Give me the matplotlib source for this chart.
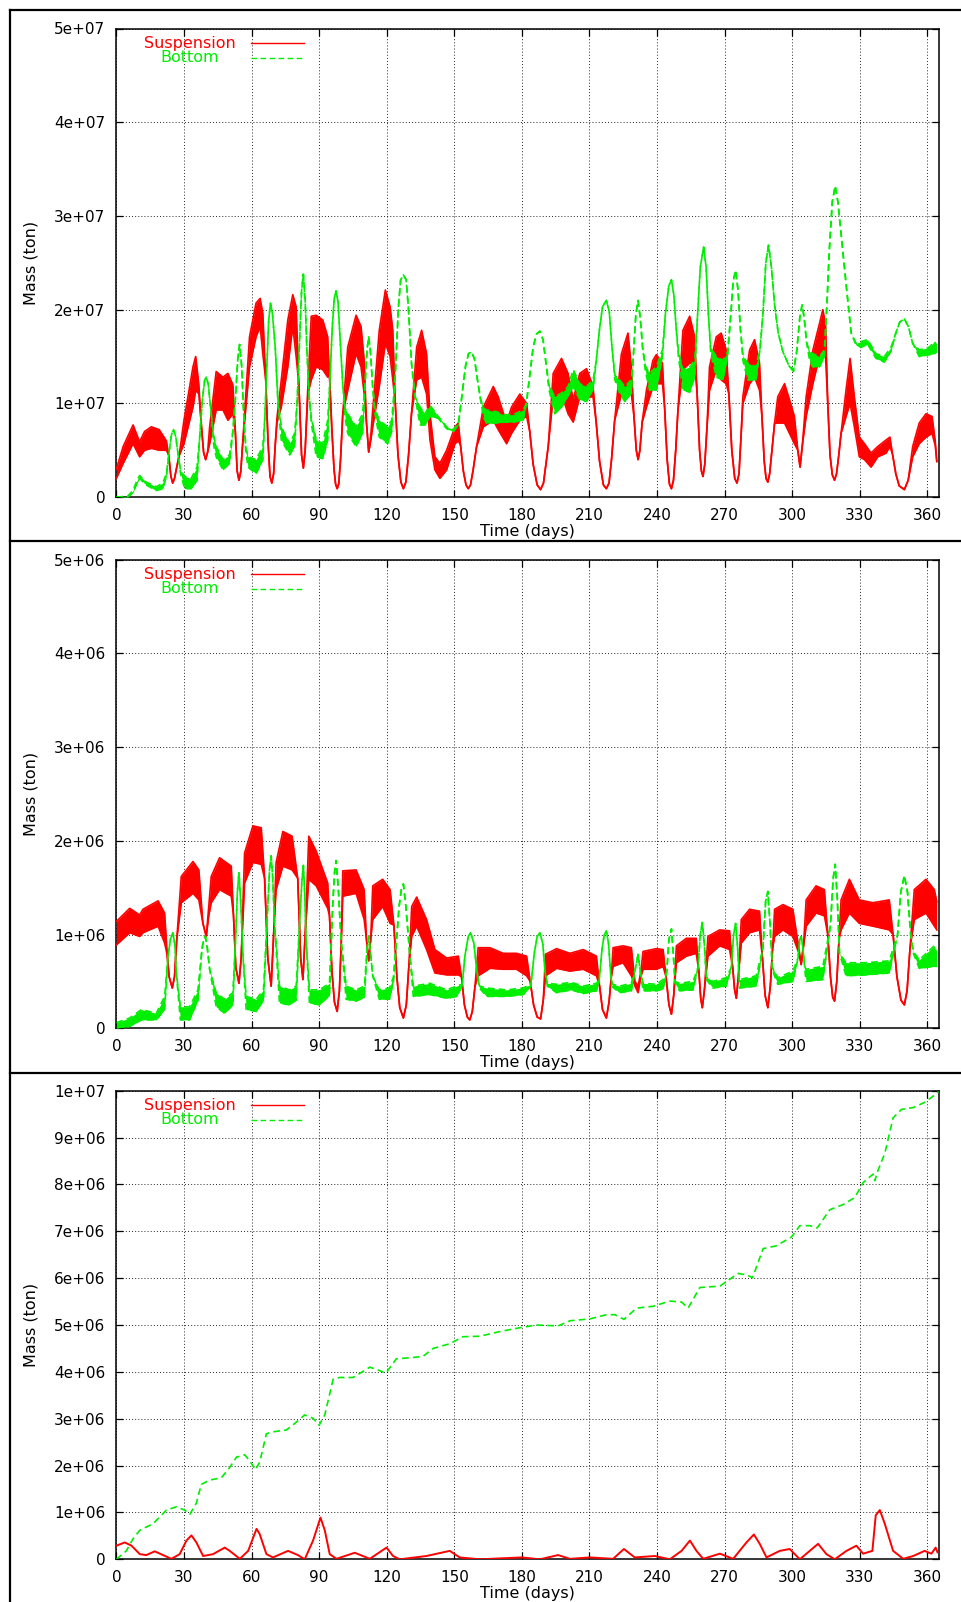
import matplotlib
matplotlib.use("Agg")
import matplotlib.pyplot as plt
from matplotlib.lines import Line2D
import numpy as np

plt.rcParams['font.family'] = ['DejaVu Sans']

RED = '#ff0000'
GREEN = '#00ee00'

# Each row: (day, upper envelope, lower envelope) of the tidally oscillating mass.
# ---------------------------------------------------------------- panel 1 (units of 1e7 t)
p1_suspension = [
    (0, .30, .20), (3, .54, .36), (7.4, .77, .57), (10.3, .59, .43), (12.5, .70, .50), (15.5, .75, .52),
    (19, .72, .50), (22.2, .60, .50), (23.2, .45, .45), (24.2, .22, .22), (25.0, .15, .15), (25.8, .20, .20),
    (26.8, .32, .32), (28, .47, .45), (30, .82, .57), (34, 1.39, .96), (35.2, 1.50, 1.14), (36.6, 1.20, 1.10),
    (37.6, .80, .80), (38.7, .48, .48), (39.6, .40, .40), (40.5, .48, .48), (41.4, .75, .57), (44.3, 1.34, .93),
    (47.3, 1.28, .93), (49.5, 1.32, .82), (51.7, 1.20, .89), (52.8, .70, .70), (53.6, .28, .28), (54.4, .18, .18),
    (55.2, .27, .27), (56, .55, .55), (56.9, .89, .80), (59.1, 1.71, 1.39), (62, 2.07, 1.71), (63.8, 2.12, 1.82),
    (65, 1.96, 1.53), (66.3, 1.25, 1.25), (67.3, .60, .60), (68.2, .22, .22), (69, .15, .15), (69.8, .25, .25),
    (70.5, .55, .55), (71.3, .85, .80), (73.2, 1.25, .96), (76.1, 1.89, 1.39), (78.3, 2.16, 1.82),
    (79.8, 2.03, 1.50), (81, 1.20, 1.20), (82.2, .45, .45), (83, .31, .31), (83.8, .50, .50), (85, 1.18, 1.10),
    (86.5, 1.93, 1.25), (88.7, 1.94, 1.39), (91.6, 1.89, 1.36), (93.8, 1.71, 1.28), (94.6, 1.30, 1.30),
    (95.6, .75, .75), (96.6, .30, .30), (97.3, .14, .14), (98, .09, .09), (98.7, .14, .14), (99.5, .40, .40),
    (100.5, .89, .89), (102.7, 1.60, 1.14), (106.4, 1.94, 1.53), (108.6, 1.82, 1.39), (110, 1.46, 1.10),
    (111, .80, .80), (112, .48, .48), (112.9, .65, .60), (113.8, .93, .75), (116.7, 1.78, 1.18),
    (119.4, 2.21, 1.64), (121.5, 2.03, 1.50), (122.7, 1.78, 1.25), (123.8, 1.00, 1.00), (125, .45, .45),
    (126.3, .16, .16), (127.4, .09, .09), (128.5, .16, .16), (129.7, .45, .45), (131, .89, .89),
    (133.3, 1.60, 1.25), (135.5, 1.78, 1.28), (137.7, 1.53, 1.10), (139.2, .89, .61), (141.4, .43, .29),
    (143.6, .36, .20), (146.6, .50, .29), (150.3, .75, .57), (151.8, .79, .60), (152.8, .55, .55),
    (154, .28, .28), (155.2, .13, .13), (156.2, .09, .09), (157.2, .13, .13), (158.3, .28, .28),
    (159.9, .54, .54), (162.9, .96, .75), (167.3, 1.18, .82), (169.5, 1.07, .72), (173.2, .79, .57),
    (175.4, .96, .68), (179.1, 1.10, .82), (182.1, 1.00, .86), (183.5, .70, .70), (185, .35, .35),
    (186.8, .13, .13), (188.3, .08, .08), (189.6, .15, .15), (190.7, .35, .35), (191.7, .54, .54),
    (193.9, 1.32, 1.07), (197.6, 1.48, 1.10), (200.5, 1.32, .89), (202.8, 1.04, .80), (205.7, 1.32, 1.07),
    (208.7, 1.37, 1.07), (211.6, 1.18, 1.07), (213, .80, .80), (214.5, .38, .38), (216.2, .13, .13),
    (217.5, .09, .09), (218.7, .15, .15), (219.8, .40, .40), (221.2, .82, .82), (224.2, 1.53, 1.10),
    (227.1, 1.75, 1.21), (228.6, 1.39, 1.10), (229.8, .85, .85), (230.8, .50, .50), (231.6, .40, .40),
    (232.4, .50, .50), (233.4, .80, .80), (235.3, 1.14, .96), (238.2, 1.46, 1.18), (239.7, 1.52, 1.21),
    (242.4, 1.43, 1.21), (243.4, .95, .95), (244.5, .40, .40), (245.5, .14, .14), (246.4, .09, .09),
    (247.3, .18, .18), (248.3, .50, .50), (249.3, .93, .93), (251.5, 1.78, 1.36), (254.5, 1.93, 1.43),
    (256.7, 1.71, 1.43), (257.8, 1.10, 1.10), (258.9, .50, .50), (259.7, .28, .28), (260.4, .22, .22),
    (261.2, .35, .35), (262.2, .75, .75), (263.3, 1.39, 1.14), (266.3, 1.71, 1.36), (268.5, 1.75, 1.25),
    (270.7, 1.57, 1.21), (271.9, 1.10, 1.10), (273.2, .50, .50), (274.5, .20, .20), (275.5, .15, .15),
    (276.4, .25, .25), (277.3, .65, .65), (278.1, 1.07, 1.00), (281.1, 1.57, 1.21), (283.3, 1.68, 1.28),
    (285.5, 1.43, 1.14), (286.6, .85, .85), (287.6, .38, .38), (288.4, .20, .20), (289.2, .16, .16),
    (290, .25, .25), (291, .50, .50), (292.2, .79, .79), (293.6, 1.07, .79), (296.6, 1.21, .79),
    (298.8, 1.04, .68), (301, .86, .57), (302.5, .50, .50), (303.5, .32, .32), (304.5, .55, .55),
    (306.2, 1.07, .86), (309.2, 1.57, 1.21), (312.1, 1.85, 1.50), (313.6, 2.00, 1.57), (314.8, 1.85, 1.50),
    (315.8, 1.00, 1.00), (316.8, .45, .45), (317.8, .24, .24), (318.8, .18, .18), (319.7, .25, .25),
    (320.7, .45, .45), (321.7, .68, .68), (323.9, 1.14, .86), (325.7, 1.48, 1.00), (327.6, 1.07, .75),
    (329.8, .64, .43), (332.1, .57, .40), (335, .47, .32), (338, .54, .43), (341.7, .61, .47),
    (343.4, .64, .54), (344.6, .45, .45), (346, .25, .25), (347.5, .12, .12), (349.8, .08, .08),
    (351.5, .18, .18), (353.5, .54, .43), (356.4, .79, .57), (359.4, .89, .64), (362.1, .86, .68),
    (363.5, .60, .55), (364.2, .38, .38),
]

p1_bottom = [
    (0, 0, 0), (5, .01, 0), (7.4, .07, .05), (9, .17, .14), (10.3, .23, .20), (13.2, .16, .13),
    (17.7, .11, .07), (20.6, .15, .09), (22.2, .25, .22), (23.5, .50, .50), (24.5, .67, .67), (25.4, .72, .72),
    (26.4, .64, .64), (27.4, .45, .45), (28.5, .28, .25), (30.3, .22, .09), (33.2, .20, .09), (35.8, .32, .18),
    (37, .65, .65), (38.2, 1.05, 1.05), (39.2, 1.25, 1.25), (39.9, 1.28, 1.28), (40.8, 1.20, 1.20),
    (42.1, .89, .89), (43.2, .65, .55), (44.3, .54, .43), (47.3, .40, .29), (50.2, .45, .36), (51.7, .70, .70),
    (52.9, 1.07, 1.07), (53.9, 1.48, 1.48), (54.7, 1.63, 1.63), (55.6, 1.40, 1.40), (56.5, .89, .89),
    (57.4, .55, .50), (58.4, .43, .32), (62, .40, .25), (65, .54, .40), (65.9, .85, .85), (66.7, 1.35, 1.35),
    (67.6, 1.88, 1.88), (68.4, 2.07, 2.07), (69.3, 1.95, 1.95), (70.5, 1.60, 1.60), (71.7, 1.05, 1.00),
    (73.2, .75, .61), (76.9, .57, .45), (79.1, .68, .54), (80.2, 1.00, 1.00), (81.2, 1.60, 1.60),
    (82.2, 2.20, 2.20), (83, 2.38, 2.38), (83.8, 2.10, 2.10), (84.6, 1.55, 1.55), (85.5, 1.10, 1.10),
    (86.5, .85, .80), (88.7, .61, .43), (91.6, .57, .41), (93.8, .82, .61), (94.8, 1.25, 1.25),
    (95.8, 1.80, 1.80), (96.7, 2.12, 2.12), (97.5, 2.20, 2.20), (98.4, 2.08, 2.08), (99.4, 1.65, 1.65),
    (100.5, 1.20, 1.20), (101.5, .95, .85), (102.7, .89, .68), (106.4, .75, .54), (109.3, .89, .68),
    (110.5, 1.25, 1.25), (111.3, 1.58, 1.58), (112, 1.71, 1.71), (112.8, 1.55, 1.55), (113.7, 1.20, 1.20),
    (114.7, .95, .90), (116.7, .82, .64), (120.4, .75, .57), (122.2, .82, .70), (123.7, 1.25, 1.25),
    (125.2, 2.03, 2.03), (126.2, 2.32, 2.32), (127.4, 2.37, 2.37), (128.6, 2.32, 2.32), (129.6, 2.03, 2.03),
    (131, 1.43, 1.43), (132.6, 1.07, 1.07), (134.8, .96, .77), (137, .89, .77), (139.2, .98, .86),
    (142.9, .86, .84), (146.6, .75, .73), (149.6, .72, .70), (151.8, .79, .77), (153.5, 1.10, 1.10),
    (155, 1.40, 1.40), (156.3, 1.53, 1.53), (157.7, 1.55, 1.55), (159, 1.47, 1.47), (160.3, 1.25, 1.25),
    (161.6, 1.05, 1.05), (163, .95, .85), (164.3, .93, .79), (168.8, .91, .79), (171.7, .88, .80),
    (176.2, .88, .80), (180.6, .93, .82), (182, 1.00, 1.00), (183.5, 1.30, 1.30), (185, 1.60, 1.60),
    (186.5, 1.74, 1.74), (188, 1.77, 1.77), (189.4, 1.68, 1.68), (190.6, 1.45, 1.45), (192, 1.20, 1.15),
    (194.6, 1.07, .89), (197.6, 1.11, .96), (200.5, 1.18, 1.08), (202.8, 1.36, 1.18), (205.7, 1.21, 1.04),
    (208.7, 1.18, 1.02), (211.6, 1.25, 1.15), (213, 1.45, 1.45), (214.5, 1.80, 1.80), (215.8, 2.03, 2.03),
    (217.5, 2.10, 2.10), (218.8, 1.98, 1.98), (220, 1.60, 1.60), (221.3, 1.30, 1.25), (223.4, 1.25, 1.11),
    (225.7, 1.18, 1.02), (228.6, 1.25, 1.11), (229.6, 1.55, 1.55), (230.6, 1.95, 1.95), (231.6, 2.10, 2.10),
    (232.6, 1.90, 1.90), (233.6, 1.60, 1.60), (234.8, 1.40, 1.35), (236.7, 1.32, 1.14), (239.7, 1.39, 1.14),
    (242.4, 1.57, 1.50), (243.7, 1.95, 1.95), (245.2, 2.25, 2.25), (246.4, 2.32, 2.32), (247.5, 2.15, 2.15),
    (248.5, 1.80, 1.80), (249.5, 1.55, 1.50), (251.5, 1.36, 1.14), (254.5, 1.39, 1.12), (256.7, 1.46, 1.28),
    (257.9, 1.90, 1.90), (259.2, 2.45, 2.45), (260.7, 2.67, 2.67), (261.8, 2.45, 2.45), (262.8, 1.95, 1.95),
    (263.8, 1.60, 1.55), (266.3, 1.50, 1.28), (269.3, 1.46, 1.25), (271.3, 1.55, 1.50), (272.6, 1.90, 1.90),
    (273.8, 2.30, 2.30), (274.9, 2.42, 2.42), (276, 2.20, 2.20), (277, 1.80, 1.80), (278.2, 1.50, 1.45),
    (280.3, 1.43, 1.25), (284, 1.39, 1.25), (285.8, 1.60, 1.60), (287, 1.95, 1.95), (288.3, 2.50, 2.50),
    (289.5, 2.69, 2.69), (290.8, 2.45, 2.45), (292.2, 2.05, 2.05), (293.8, 1.75, 1.75), (295.9, 1.55, 1.55),
    (298.8, 1.39, 1.39), (300.6, 1.37, 1.34), (302, 1.55, 1.55), (303.4, 1.92, 1.92), (304.4, 2.05, 2.05),
    (305.3, 1.92, 1.92), (306.4, 1.65, 1.65), (307.8, 1.55, 1.45), (309.2, 1.53, 1.39), (312.1, 1.50, 1.39),
    (314.3, 1.57, 1.50), (315.5, 2.10, 2.10), (316.5, 2.64, 2.64), (317.8, 3.15, 3.15), (319.1, 3.32, 3.32),
    (320.3, 3.15, 3.15), (321.7, 2.81, 2.81), (323.9, 2.28, 2.28), (326.2, 1.75, 1.75), (328.4, 1.64, 1.62),
    (330.6, 1.66, 1.60), (333.5, 1.68, 1.63), (337.2, 1.53, 1.48), (340.9, 1.50, 1.44), (343.9, 1.60, 1.56),
    (346, 1.75, 1.75), (347.8, 1.87, 1.87), (349.8, 1.90, 1.90), (351.6, 1.82, 1.82), (353.5, 1.64, 1.64),
    (356.4, 1.57, 1.50), (360.9, 1.60, 1.52), (363.1, 1.66, 1.53), (364.2, 1.62, 1.55),
]

# ---------------------------------------------------------------- panel 2 (units of 1e6 t)
p2_suspension = [
    (0, 1.14, .89), (5.9, 1.28, 1.02), (10.3, 1.21, .98), (11.8, 1.27, 1.02), (18.5, 1.36, 1.09),
    (21.4, 1.23, .91), (22.4, .85, .80), (23.4, .55, .55), (24.8, .43, .43), (25.8, .55, .55), (26.8, .95, .95),
    (28.8, 1.62, 1.34), (34, 1.78, 1.44), (36.6, 1.69, 1.37), (38.4, 1.12, 1.12), (39.9, .98, .98),
    (41, 1.30, 1.20), (42.1, 1.62, 1.34), (45.8, 1.82, 1.48), (51, 1.73, 1.41), (52, 1.20, 1.20),
    (53, .65, .65), (54.4, .48, .48), (55.4, .75, .75), (56.9, 1.87, 1.55), (60.6, 2.16, 1.77),
    (64.3, 2.14, 1.75), (65.8, 1.60, 1.60), (67.2, .75, .75), (68.7, .45, .45), (69.8, 1.00, 1.00),
    (70.9, 1.77, 1.48), (73.9, 2.10, 1.73), (78, 2.05, 1.69), (80.5, 1.60, 1.60), (81.8, .75, .75),
    (82.8, .52, .52), (83.8, 1.00, 1.00), (85.4, 2.05, 1.59), (88.7, 1.89, 1.52), (93.8, 1.55, 1.28),
    (94.6, 1.20, 1.20), (95.7, .60, .60), (96.8, .28, .28), (98, .18, .18), (99, .40, .40), (99.8, .90, .90),
    (100.5, 1.68, 1.41), (106.4, 1.69, 1.44), (110, 1.48, 1.16), (111, .95, .95), (112, .72, .72),
    (112.9, .95, .95), (113.8, 1.52, 1.16), (118.2, 1.59, 1.30), (121.5, 1.48, 1.12), (123.2, 1.10, 1.10),
    (124.5, .55, .55), (125.8, .22, .22), (127.4, .11, .11), (128.7, .25, .25), (129.8, .65, .65),
    (131.1, 1.30, .98), (133.3, 1.40, 1.09), (137.7, 1.16, .84), (141.4, .84, .59), (146.6, .75, .57),
    (151.8, .77, .57), (153.2, .55, .55), (154.5, .25, .25), (155.8, .12, .12), (156.9, .09, .09),
    (158, .18, .18), (159.2, .45, .45), (160.6, .86, .56), (165.8, .86, .64), (171.7, .80, .63),
    (177.6, .80, .63), (182.1, .77, .56), (183.7, .50, .50), (185.2, .25, .25), (186.8, .12, .12),
    (188.3, .10, .10), (189.5, .30, .30), (190.5, .79, .56), (195.4, .85, .64), (201.3, .80, .61),
    (207.2, .84, .63), (213.1, .77, .56), (214.5, .45, .45), (215.8, .20, .20), (217.5, .11, .11),
    (218.7, .28, .28), (219.7, .55, .55), (220.5, .86, .66), (224.9, .88, .70), (228.6, .86, .56),
    (230.2, .50, .45), (231.6, .45, .38), (232.8, .60, .55), (233.8, .82, .63), (239.7, .85, .63),
    (242.7, .84, .66), (244, .55, .55), (245.3, .25, .25), (246.4, .15, .15), (247.4, .35, .35),
    (248.6, .88, .70), (253, .96, .77), (257.4, .96, .80), (258.6, .60, .60), (259.4, .32, .32),
    (260.1, .22, .22), (261, .40, .40), (262.6, .98, .77), (267.8, 1.05, .88), (272.2, 1.04, .84),
    (273.6, .65, .65), (274.4, .42, .42), (275.2, .32, .32), (276.1, .55, .55), (277.4, 1.16, .91),
    (281.1, 1.27, 1.02), (285.5, 1.25, 1.05), (286.8, .75, .75), (288, .35, .35), (289.2, .22, .22),
    (290.3, .45, .45), (291.3, .85, .85), (292.2, 1.27, .98), (295.9, 1.32, 1.05), (300.3, 1.27, .98),
    (303, .85, .80), (304, .68, .68), (305.2, .95, .90), (306.2, 1.37, 1.09), (310.6, 1.52, 1.23),
    (314.3, 1.48, 1.20), (315.8, 1.00, 1.00), (317, .55, .55), (318, .33, .33), (318.8, .29, .29),
    (319.8, .50, .50), (320.8, .95, .95), (321.7, 1.37, 1.05), (325.4, 1.59, 1.23), (329.8, 1.37, 1.12),
    (335.8, 1.34, 1.09), (343.1, 1.37, 1.05), (344.8, 1.00, 1.00), (346.5, .55, .55), (348.3, .30, .30),
    (349.8, .25, .25), (351, .40, .40), (352.3, .85, .85), (354.2, 1.48, 1.16), (359.4, 1.59, 1.23),
    (363.1, 1.48, 1.09), (364.2, 1.35, 1.05),
]

p2_bottom = [
    (0, .06, 0), (5.9, .11, .02), (11.1, .20, .09), (17.7, .16, .09), (21.4, .34, .20), (22.9, .77, .77),
    (24, .95, .95), (25.1, 1.02, 1.02), (26, .88, .88), (26.6, .59, .59), (28.4, .23, .09), (32.5, .23, .09),
    (36.2, .41, .30), (38, .85, .85), (38.8, .95, .95), (39.5, .98, .98), (40.4, .85, .85), (41.4, .63, .63),
    (44.3, .38, .23), (48, .31, .16), (51.7, .38, .25), (53, 1.00, 1.00), (53.7, 1.45, 1.45),
    (54.4, 1.66, 1.66), (55.2, 1.35, 1.35), (56.2, .77, .77), (57.6, .34, .20), (62.1, .31, .18),
    (65.3, .41, .30), (67, 1.20, 1.20), (68, 1.70, 1.70), (68.7, 1.84, 1.84), (69.4, 1.60, 1.60),
    (70.2, 1.12, 1.12), (72.4, .45, .27), (76.8, .41, .25), (79.8, .45, .30), (81.5, 1.20, 1.20),
    (82.3, 1.55, 1.55), (83, 1.74, 1.74), (83.6, 1.45, 1.45), (84.2, .95, .95), (85.7, .41, .27),
    (90.1, .41, .25), (94.6, .48, .35), (96, 1.30, 1.30), (96.8, 1.65, 1.65), (97.5, 1.79, 1.79),
    (98.5, 1.50, 1.50), (99.7, .95, .95), (102, .45, .31), (106.4, .41, .29), (110.1, .45, .33),
    (111.3, .85, .85), (112, .98, .98), (112.8, .80, .80), (113.8, .56, .56), (116.7, .41, .31),
    (121.2, .43, .31), (123, .55, .50), (125.5, 1.30, 1.30), (126.5, 1.48, 1.48), (127.4, 1.54, 1.54),
    (128.5, 1.30, 1.30), (130.3, .77, .77), (131.8, .45, .34), (139.2, .48, .36), (146.6, .41, .32),
    (151, .45, .34), (153.5, .47, .45), (154.7, .77, .77), (156.2, .98, .98), (157.2, 1.02, 1.02),
    (158.7, .91, .91), (159.9, .63, .63), (161.2, .45, .43), (164.3, .43, .34), (173.2, .41, .34),
    (180.6, .43, .36), (184, .47, .45), (185.5, .80, .80), (186.8, .98, .98), (188, 1.02, 1.02),
    (189.3, .90, .90), (190.3, .60, .60), (191.3, .48, .45), (195.4, .47, .38), (202, .49, .41),
    (207.2, .45, .37), (213.1, .48, .40), (214.3, .52, .50), (215.6, .85, .85), (216.6, 1.00, 1.00),
    (217.5, 1.04, 1.04), (218.5, .90, .90), (219.5, .55, .55), (220.3, .47, .44), (223.4, .45, .38),
    (228.6, .48, .40), (230.5, .65, .65), (231.6, .79, .79), (232.6, .60, .60), (233.8, .48, .40),
    (239.7, .47, .40), (242.7, .52, .42), (244.3, .60, .60), (245.3, .95, .95), (246.4, 1.06, 1.06),
    (247.2, .80, .80), (248, .50, .48), (250, .48, .40), (256, .50, .41), (258.2, .65, .65),
    (259.2, 1.00, 1.00), (260.1, 1.13, 1.13), (261, .90, .90), (261.9, .55, .52), (264.8, .50, .43),
    (270.7, .54, .45), (273, .65, .65), (274, 1.00, 1.00), (274.9, 1.12, 1.12), (275.8, .85, .85),
    (276.6, .52, .43), (284, .56, .45), (287, .85, .85), (288.2, 1.35, 1.35), (289.2, 1.46, 1.46),
    (290.2, 1.10, 1.10), (291.2, .65, .62), (293.6, .54, .47), (300.3, .61, .50), (302.6, .75, .75),
    (303.4, .95, .95), (304, .98, .98), (304.8, .85, .85), (305.7, .65, .60), (306.2, .63, .50),
    (313.6, .66, .52), (317, 1.10, 1.10), (318.2, 1.60, 1.60), (319.1, 1.75, 1.75), (320, 1.40, 1.40),
    (321, .80, .80), (323.9, .70, .56), (332.8, .70, .57), (343.1, .72, .59), (346.8, 1.00, 1.00),
    (348.2, 1.45, 1.45), (349.8, 1.63, 1.63), (351.2, 1.45, 1.45), (352.6, 1.00, 1.00), (353.8, .82, .80),
    (356.4, .73, .64), (363.1, .88, .66), (364.2, .80, .66),
]

# ---------------------------------------------------------------- panel 3 (units of 1e6 t)
p3_bot_days = [0, 4.4, 7.4, 10.4, 16.3, 22.2, 26.6, 30.3, 32.6, 35.5, 37.7, 41.4, 46.6, 50.3, 53.3, 57, 59.2,
               61.7, 63.6, 66.6, 69.5, 75.5, 79.2, 83.6, 87.3, 90, 92.5, 96.2, 99.1, 105.1, 112.5, 116.2,
               119.6, 124.3, 130.2, 136.1, 140.6, 148, 153.9, 161.3, 170.2, 180, 186.5, 196.1, 201.3, 210.2,
               217.6, 221.3, 225.3, 230.9, 238.3, 245.7, 250.9, 253.8, 259, 267.9, 276, 279.7, 282.4, 287.1,
               293, 299.7, 303.4, 307.8, 311.1, 316.7, 322.6, 327.8, 331.5, 335.9, 336.7, 338.1, 341.1,
               344.8, 348.5, 353.7, 358.8, 363.3, 365]
p3_bot = [0.00, 0.18, 0.44, 0.62, 0.76, 1.05, 1.12, 1.05, 0.96, 1.20, 1.60, 1.69, 1.74, 1.96, 2.18, 2.23,
          2.10, 1.91, 2.07, 2.68, 2.72, 2.76, 2.90, 3.08, 3.01, 2.86, 3.08, 3.84, 3.88, 3.88, 4.10, 4.04, 3.97,
          4.28, 4.30, 4.33, 4.50, 4.60, 4.75, 4.76, 4.86, 4.95, 5.00, 4.98, 5.09, 5.13, 5.22, 5.22, 5.12, 5.36,
          5.40, 5.51, 5.49, 5.36, 5.80, 5.83, 6.10, 6.07, 6.01, 6.63, 6.69, 6.88, 7.12, 7.12, 7.07, 7.46, 7.57,
          7.72, 8.04, 8.22, 8.08, 8.30, 8.66, 9.42, 9.60, 9.64, 9.75, 9.91, 9.98]

p3_susp_days = [0, 3.7, 6.7, 10.4, 13.3, 17, 20.7, 24.4, 28.1, 31.1, 33.3, 35.5, 38.5, 42.9, 48.1, 50.3,
                54.8, 58.5, 62.2, 63.6, 66.6, 69.5, 76.2, 80.6, 83.6, 87.3, 90.6, 92.5, 94.7, 97.7, 105.8,
                112.5, 119.9, 122.8, 125.8, 137.6, 148, 152.4, 161.3, 180, 188, 196.1, 201.3, 210.2, 220.5,
                225.3, 230.1, 239, 245.7, 250.9, 254.6, 257.5, 260.5, 267.9, 273.8, 279.7, 283, 285.6,
                288.6, 294.5, 298.9, 303.4, 307.8, 311.5, 315.2, 318.9, 324.1, 328.5, 331.5, 335.6, 337.1,
                338.9, 341.1, 344.8, 349.3, 353.7, 358.8, 361.8, 363.7, 364.5]
p3_susp = [0.29, 0.36, 0.29, 0.11, 0.09, 0.17, 0.09, 0.01, 0.11, 0.40, 0.51, 0.36, 0.07, 0.11, 0.25, 0.18,
           0.01, 0.18, 0.65, 0.54, 0.11, 0.04, 0.18, 0.09, 0.00, 0.40, 0.89, 0.62, 0.11, 0.01, 0.14, 0.01,
           0.25, 0.07, 0.00, 0.07, 0.18, 0.04, 0.00, 0.04, 0.00, 0.09, 0.01, 0.04, 0.01, 0.22, 0.04, 0.07,
           0.00, 0.18, 0.40, 0.18, 0.01, 0.12, 0.01, 0.36, 0.53, 0.33, 0.04, 0.18, 0.22, 0.00, 0.18, 0.33,
           0.11, 0.00, 0.18, 0.29, 0.12, 0.18, 0.94, 1.05, 0.76, 0.18, 0.01, 0.07, 0.18, 0.12, 0.25, 0.15]

# ---------------------------------------------------------------- axes text
x_ticks = list(range(0, 361, 30))
p1_yticks = [0, 1e7, 2e7, 3e7, 4e7, 5e7]
p1_ylabels = ['0', '1e+07', '2e+07', '3e+07', '4e+07', '5e+07']
p2_yticks = [0, 1e6, 2e6, 3e6, 4e6, 5e6]
p2_ylabels = ['0', '1e+06', '2e+06', '3e+06', '4e+06', '5e+06']
p3_yticks = [i * 1e6 for i in range(11)]
p3_ylabels = ['0'] + ['%de+06' % i for i in range(1, 10)] + ['1e+07']

W, H = 962, 1602
fig = plt.figure(figsize=(W / 100, H / 100), dpi=100)
fig.patch.set_facecolor('white')

AX_LEFT, AX_RIGHT = 116.4, 938.6
AX_H = 468.6


def make_axes(top_px):
    return fig.add_axes([AX_LEFT / W, 1 - (top_px + AX_H) / H, (AX_RIGHT - AX_LEFT) / W, AX_H / H])


def style_axes(ax, yticks, ylabels):
    ax.set_xlim(0, 365)
    ax.set_ylim(yticks[0], yticks[-1])
    ax.set_xticks(x_ticks)
    ax.set_xticklabels([str(t) for t in x_ticks])
    ax.set_yticks(yticks)
    ax.set_yticklabels(ylabels)
    ax.tick_params(direction='in', length=5, width=0.9, top=True, right=True,
                   labelsize=11, pad=8, colors='black')
    ax.grid(True, color='black', linestyle=(0, (1, 2.2)), linewidth=0.7, alpha=0.85)
    ax.set_axisbelow(True)
    for sp in ax.spines.values():
        sp.set_linewidth(1.1)
        sp.set_color('black')
    ax.set_xlabel('Time (days)', fontsize=11.5)
    ax.xaxis.set_label_coords(0.5, -0.0575)
    ax.set_ylabel('Mass (ton)', fontsize=11.5, va='center')
    ax.yaxis.set_label_coords(-0.1044, 0.5)
    # key: centred text to the left of its line sample
    ax.text(0.0895, 0.969, 'Suspension', color=RED, fontsize=11.5, ha='center', va='center',
            transform=ax.transAxes)
    ax.text(0.0895, 0.938, 'Bottom', color=GREEN, fontsize=11.5, ha='center', va='center',
            transform=ax.transAxes)
    ax.plot([0.164, 0.228], [0.969, 0.969], color=RED, lw=1.0, transform=ax.transAxes)
    ax.plot([0.164, 0.228], [0.938, 0.938], color=GREEN, lw=1.0, dashes=(4, 2.5),
            transform=ax.transAxes)


def draw_band(ax, rows, scale, color, dashed):
    d, h, l = (np.asarray(c, float) for c in zip(*rows))
    h = h * scale
    l = l * scale
    z = 4 if dashed else 3
    ax.fill_between(d, l, h, color=color, lw=0, zorder=z)
    kw = dict(color=color, lw=1.2, zorder=z)
    if dashed:
        kw['dashes'] = (4, 2.5)
    ax.plot(d, h, **kw)
    ax.plot(d, l, **kw)


# panel 1
ax1 = make_axes(28.5)
draw_band(ax1, p1_suspension, 1e7, RED, False)
draw_band(ax1, p1_bottom, 1e7, GREEN, True)
style_axes(ax1, p1_yticks, p1_ylabels)

# panel 2
ax2 = make_axes(559.7)
draw_band(ax2, p2_suspension, 1e6, RED, False)
draw_band(ax2, p2_bottom, 1e6, GREEN, True)
style_axes(ax2, p2_yticks, p2_ylabels)

# panel 3
ax3 = make_axes(1090.7)
ax3.plot(p3_susp_days, np.asarray(p3_susp) * 1e6, color=RED, lw=1.4, zorder=3)
ax3.plot(p3_bot_days, np.asarray(p3_bot) * 1e6, color=GREEN, lw=1.2, dashes=(4, 2.5), zorder=4)
style_axes(ax3, p3_yticks, p3_ylabels)

# outer panel frames
for y in (10.2, 541.0, 1072.5):
    fig.add_artist(Line2D([10.2 / W, 1.0], [1 - y / H, 1 - y / H], transform=fig.transFigure,
                          color='black', lw=1.6))
fig.add_artist(Line2D([10.2 / W, 10.2 / W], [1 - 10.2 / H, 0.0], transform=fig.transFigure,
                      color='black', lw=1.6))

fig.savefig('out.png', dpi=100, facecolor='white')
